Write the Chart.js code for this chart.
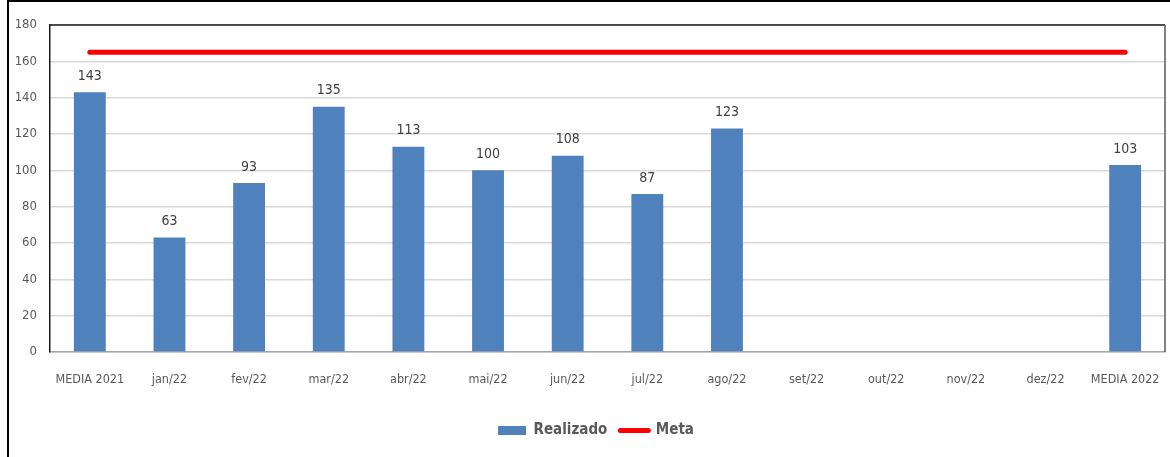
<!DOCTYPE html>
<html>
<head>
<meta charset="utf-8">
<script src="https://cdn.jsdelivr.net/npm/chart.js@4"></script>
<style>
  html, body { margin: 0; padding: 0; background: #fff; }
  .moldura { position: absolute; left: 7px; top: 0; width: 1180px; height: 480px; border: 2px solid #000; box-sizing: border-box; }
  .area { position: absolute; left: 0; top: 0; width: 1170px; height: 457px; }
</style>
</head>
<body>
<div class="moldura"></div>
<div class="area"><canvas id="grafico" width="1170" height="457"></canvas></div>
<script>
const categorias = ['MEDIA 2021', 'jan/22', 'fev/22', 'mar/22', 'abr/22', 'mai/22', 'jun/22', 'jul/22', 'ago/22', 'set/22', 'out/22', 'nov/22', 'dez/22', 'MEDIA 2022']
const realizado = [143, 63, 93, 135, 113, 100, 108, 87, 123, null, null, null, null, 103]
const meta = [165, 165, 165, 165, 165, 165, 165, 165, 165, 165, 165, 165, 165, 165]
const ticksY = [0, 20, 40, 60, 80, 100, 120, 140, 160, 180]

const fonte = "'Liberation Sans Narrow', 'DejaVu Sans Condensed', sans-serif"
const azul = '#4F81BD'
const vermelho = '#FF0000'

// rotulos em cima das barras (dataset 1 = barras)
const rotulos = {
  id: 'rotulos',
  afterDatasetsDraw(chart) {
    const ctx = chart.ctx
    const barras = chart.getDatasetMeta(1)
    ctx.save()
    ctx.font = '14px ' + fonte
    ctx.fillStyle = '#404040'
    ctx.textAlign = 'center'
    ctx.textBaseline = 'bottom'
    barras.data.forEach((bar, i) => {
      if (realizado[i] == null) return
      ctx.fillText(realizado[i], bar.x, bar.y - 9)
    })
    ctx.restore()
  }
}

// borda de cima e da direita da area do grafico
const bordaArea = {
  id: 'bordaArea',
  afterLayout(chart) {
    // legenda um pouco para a direita, como no original
    chart.legend.left += 27
  },
  afterDraw(chart) {
    const { left, top, right, bottom } = chart.chartArea
    const ctx = chart.ctx
    ctx.save()
    ctx.strokeStyle = '#1a1a1a'
    ctx.lineWidth = 1.5
    ctx.beginPath()
    ctx.moveTo(left, top)
    ctx.lineTo(right, top)
    ctx.stroke()
    ctx.strokeStyle = '#595959'
    ctx.beginPath()
    ctx.moveTo(right, top)
    ctx.lineTo(right, bottom)
    ctx.stroke()
    ctx.restore()
  }
}

new Chart(document.getElementById('grafico'), {
  data: {
    labels: categorias,
    datasets: [
      {
        type: 'line',
        label: 'Meta',
        data: meta,
        borderColor: vermelho,
        borderWidth: 5,
        borderCapStyle: 'round',
        pointRadius: 0,
        order: 0
      },
      {
        type: 'bar',
        label: 'Realizado',
        data: realizado,
        backgroundColor: azul,
        barPercentage: 0.4,
        categoryPercentage: 1,
        order: 1
      }
    ]
  },
  options: {
    responsive: false,
    animation: false,
    layout: { padding: { left: 0, right: 5, top: 25, bottom: 9 } },
    plugins: {
      tooltip: { enabled: false },
      legend: {
        position: 'bottom',
        labels: {
          usePointStyle: true,
          pointStyleWidth: 28,
          boxHeight: 9,
          padding: 13,
          color: '#595959',
          font: { family: fonte, size: 15, weight: 'bold' },
          generateLabels() {
            return [
              { text: 'Realizado', pointStyle: 'rect', fillStyle: azul, strokeStyle: azul, lineWidth: 0, fontColor: '#595959', datasetIndex: 1 },
              { text: 'Meta', pointStyle: 'line', fillStyle: vermelho, strokeStyle: vermelho, lineWidth: 5, lineCap: 'round', fontColor: '#595959', datasetIndex: 0 }
            ]
          }
        }
      }
    },
    scales: {
      x: {
        grid: { display: false, drawTicks: false },
        border: { color: '#a6a6a6', width: 1.5 },
        ticks: { color: '#595959', padding: 20, maxRotation: 0, autoSkip: false, font: { family: fonte, size: 12.5 } },
        afterFit(scale) {
          scale.height = 58
          scale.paddingLeft = 0
          scale.paddingRight = 0
        }
      },
      y: {
        min: 0,
        max: 180,
        afterBuildTicks(scale) { scale.ticks = ticksY.map(v => ({ value: v })) },
        grid: { color: '#d9d9d9', lineWidth: 1.5, drawTicks: false },
        border: { color: '#1a1a1a', width: 1.5 },
        ticks: { color: '#595959', padding: 13, font: { family: fonte, size: 13 } },
        afterFit(scale) { scale.width = 50 }
      }
    }
  },
  plugins: [rotulos, bordaArea]
})
</script>
</body>
</html>
